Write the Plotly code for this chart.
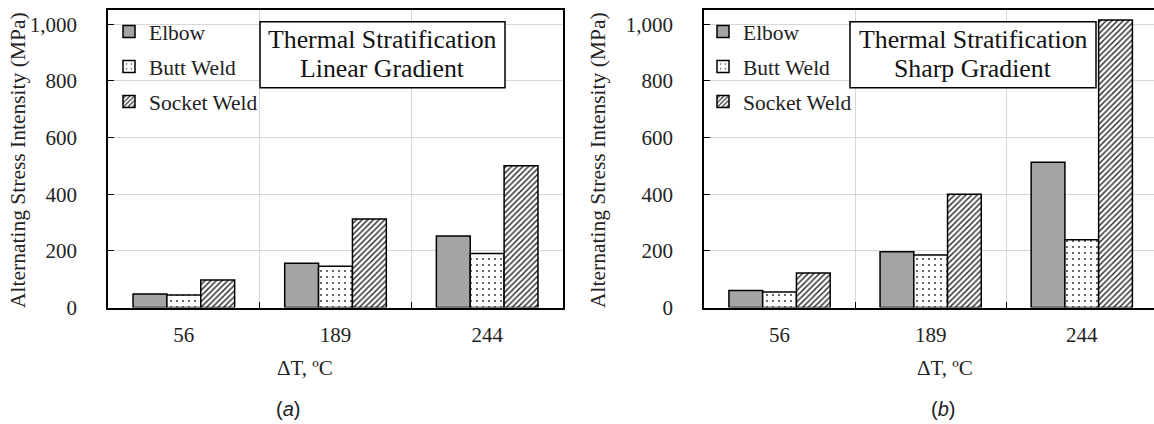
import plotly.graph_objects as go

# ---- data ----
categories = ["56", "189", "244"]
series_names = ["Elbow", "Butt Weld", "Socket Weld"]
linear_elbow = [48, 156, 252]
linear_butt = [44, 146, 191]
linear_socket = [97, 312, 500]
sharp_elbow = [60, 197, 513]
sharp_butt = [55, 185, 239]
sharp_socket = [122, 400, 1015]
y_tick_vals = [0, 200, 400, 600, 800, 1000]
panel_titles = [["Thermal Stratification", "Linear Gradient"],
                ["Thermal Stratification", "Sharp Gradient"]]
captions = ["(<i>a</i>)", "(<i>b</i>)"]

SERIF = "Liberation Serif, Times New Roman, serif"
W, H = 1154, 424

styles = {
    "Elbow": dict(color="#a4a4a4", pattern=dict(shape="")),
    "Butt Weld": dict(color="white", pattern=dict(shape=".", size=6, solidity=0.07, fgcolor="#222", bgcolor="white", fillmode="replace")),
    "Socket Weld": dict(color="white", pattern=dict(shape="/", size=4, solidity=0.35, fgcolor="#222", bgcolor="white", fillmode="replace")),
}

fig = go.Figure()
panels = [
    ("x", "y", "legend", [linear_elbow, linear_butt, linear_socket]),
    ("x2", "y2", "legend2", [sharp_elbow, sharp_butt, sharp_socket]),
]
for xa, ya, leg, vals in panels:
    for name, v in zip(series_names, vals):
        st = styles[name]
        fig.add_trace(go.Bar(
            x=categories, y=v, name=name, xaxis=xa, yaxis=ya, legend=leg,
            legendgroup=name + leg,
            marker=dict(color=st["color"], pattern=st["pattern"],
                        line=dict(color="black", width=1.5)),
        ))

def px_x(p):
    return p / W

def px_y(p):
    return 1 - p / H

ydom = [px_y(307.5), px_y(10)]
axis_font = dict(family=SERIF, size=21, color="#222")

common_x = dict(type="category", showline=True, linecolor="black", linewidth=1.5, mirror=True,
                ticks="inside", ticklen=6, tickcolor="black", tickson="boundaries",
                showgrid=True, gridcolor="#d6d6d6", gridwidth=1, tickfont=axis_font,
                ticklabelstandoff=8, automargin=False)
common_y = dict(range=[0, 1050], tickvals=y_tick_vals, tickformat=",", showline=True,
                linecolor="black", linewidth=1.5, mirror=True, ticks="inside", ticklen=6,
                tickcolor="black", showgrid=True, gridcolor="#d6d6d6", gridwidth=1,
                tickfont=axis_font, ticklabelstandoff=25, zeroline=False, automargin=False)

legend_common = dict(xanchor="left", yanchor="top",
                     font=dict(family=SERIF, size=21.5, color="#222"), bgcolor="rgba(0,0,0,0)",
                     tracegroupgap=4, itemwidth=30)

fig.update_layout(
    width=W, height=H, margin=dict(l=0, r=0, t=0, b=0, autoexpand=False),
    paper_bgcolor="white", plot_bgcolor="white",
    barmode="group", bargap=0.33, bargroupgap=0,
    xaxis=dict(domain=[px_x(108), px_x(563)], anchor="y", range=[-0.5, 2.5], **common_x),
    yaxis=dict(domain=ydom, anchor="x", **common_y),
    xaxis2=dict(domain=[px_x(704), 1.0], anchor="y2", range=[-0.5, 2.478], **common_x),
    yaxis2=dict(domain=ydom, anchor="x2", **common_y),
    legend=dict(x=px_x(109), y=px_y(11), **legend_common),
    legend2=dict(x=px_x(703), y=px_y(11), **legend_common),
    showlegend=True,
)

annotations = []
# panel title boxes (frame + two text lines)
for (x0, x1), lines in zip([(260, 505), (850, 1096)], panel_titles):
    fig.add_shape(type="rect", xref="paper", yref="paper",
                  x0=px_x(x0), x1=px_x(x1), y0=px_y(87.7), y1=px_y(21.7),
                  line=dict(color="black", width=1.5), fillcolor="white", layer="above")
    for yc, line in zip([39.5, 68.5], lines):
        annotations.append(dict(
            x=px_x((x0 + x1) / 2), y=px_y(yc), xref="paper", yref="paper",
            text=line, showarrow=False, xanchor="center", yanchor="middle",
            font=dict(family=SERIF, size=25.8, color="#111"),
        ))
# y-axis titles
for xc in [18, 598]:
    annotations.append(dict(
        x=px_x(xc), y=px_y(160), xref="paper", yref="paper",
        text="Alternating Stress Intensity (MPa)", textangle=-90, showarrow=False,
        xanchor="center", yanchor="middle", font=dict(family=SERIF, size=21.5, color="#222"),
    ))
# x-axis titles
for xc in [305, 945]:
    annotations.append(dict(
        x=px_x(xc), y=px_y(368), xref="paper", yref="paper",
        text="ΔT, ºC", showarrow=False, xanchor="center", yanchor="middle",
        font=dict(family=SERIF, size=21, color="#222"),
    ))
# captions
for xc, cap in zip([288, 943], captions):
    annotations.append(dict(
        x=px_x(xc), y=px_y(409), xref="paper", yref="paper",
        text=cap, showarrow=False, xanchor="center", yanchor="middle",
        font=dict(family="Liberation Sans, Arial, sans-serif", size=20, color="#222"),
    ))
fig.update_layout(annotations=annotations)

fig.write_html("out.html", config={"displayModeBar": False},
               post_script="document.body.style.margin='0';document.body.style.overflow='hidden';")
